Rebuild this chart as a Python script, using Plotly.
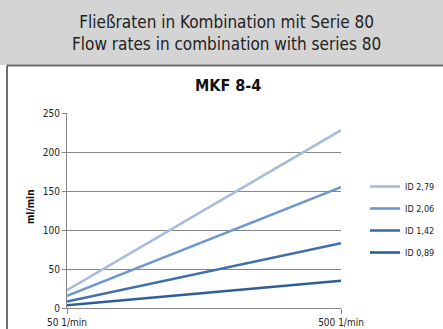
import plotly.graph_objects as go

# Pump speeds (category axis) and flow rates in ml/min per tube inner diameter
speeds = ["50 1/min", "500 1/min"]
series_names = ["ID 2,79", "ID 2,06", "ID 1,42", "ID 0,89"]
flow_id_279 = [22.8, 228]
flow_id_206 = [15.5, 155]
flow_id_142 = [8.3, 83]
flow_id_089 = [3.5, 35]
y_ticks = [0, 50, 100, 150, 200, 250]

colors = ["#A6BDDA", "#7097CB", "#3F70AD", "#2E5E96"]
series_values = [flow_id_279, flow_id_206, flow_id_142, flow_id_089]

FONT = "Liberation Sans Narrow, DejaVu Sans Condensed, Roboto, sans-serif"

W, H = 443, 329
L, R, T, B = 67, 102, 113, 21
pw, ph = W - L - R, H - T - B


def px(x):
    return (x - L) / pw


def py(y):
    return (H - B - y) / ph


fig = go.Figure()
for name, vals, col in zip(series_names, series_values, colors):
    fig.add_trace(go.Scatter(
        x=speeds, y=vals, mode="lines", name=name, legendgroup=name,
        line=dict(color=col, width=2.6),
    ))

# grey header band and the dark frame lines below/left of it
fig.add_shape(type="rect", xref="paper", yref="paper", layer="below",
              x0=px(0), x1=px(W), y0=py(65), y1=py(0),
              fillcolor="#D4D4D4", line_width=0)
fig.add_shape(type="line", xref="paper", yref="paper",
              x0=px(7), x1=px(W), y0=py(65.5), y1=py(65.5),
              line=dict(color="#6E6E6E", width=2))
fig.add_shape(type="line", xref="paper", yref="paper",
              x0=px(7), x1=px(7), y0=py(65.5), y1=py(H),
              line=dict(color="#6E6E6E", width=2))

fig.add_annotation(text="Fließraten in Kombination mit Serie 80<br>Flow rates in combination with series 80",
                   xref="paper", yref="paper", x=px(226), y=py(33), showarrow=False,
                   font=dict(family=FONT, size=17, color="#222222"), align="center",
                   xanchor="center", yanchor="middle")
fig.add_annotation(text="<b>MKF 8-4</b>", xref="paper", yref="paper",
                   x=px(228), y=py(85), showarrow=False,
                   font=dict(family=FONT, size=16, color="#111111"),
                   xanchor="center", yanchor="middle")
fig.add_annotation(text="<b>ml/min</b>", xref="paper", yref="paper",
                   x=px(30), y=py(207), showarrow=False, textangle=-90,
                   font=dict(family=FONT, size=10, color="#111111"),
                   xanchor="center", yanchor="middle")

fig.update_layout(
    width=W, height=H,
    margin=dict(l=L, r=R, t=T, b=B, autoexpand=False),
    paper_bgcolor="white", plot_bgcolor="white",
    showlegend=True,
    legend=dict(x=px(365), y=py(172), xanchor="left", yanchor="top",
                font=dict(family=FONT, size=9, color="#222222"),
                itemwidth=30, tracegroupgap=3, bgcolor="rgba(0,0,0,0)"),
    xaxis=dict(type="category", categoryarray=speeds, range=[0, 1],
               showgrid=False, showline=True, linecolor="#868686", linewidth=1,
               ticks="outside", ticklen=5, tickcolor="#868686",
               tickfont=dict(family=FONT, size=10, color="#222222"),
               zeroline=False),
    yaxis=dict(range=[0, 250], tickvals=y_ticks, showgrid=True,
               gridcolor="#868686", gridwidth=1,
               showline=True, linecolor="#868686", linewidth=1,
               ticks="outside", ticklen=4, tickcolor="#868686",
               tickfont=dict(family=FONT, size=10, color="#222222"),
               zeroline=False),
)

fig.write_html("out.html")
